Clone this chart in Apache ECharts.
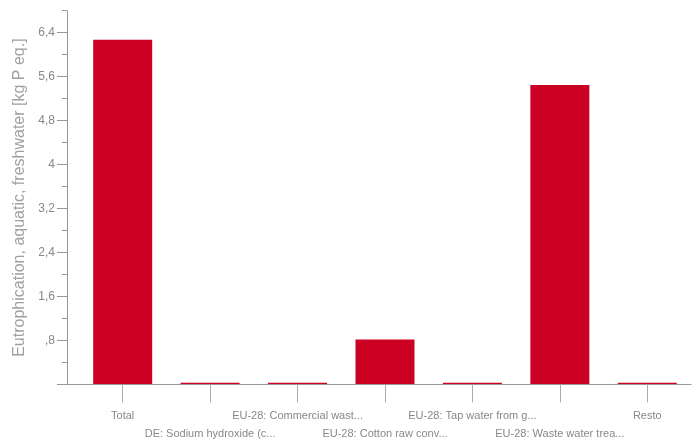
<!DOCTYPE html>
<html>
<head>
<meta charset="utf-8">
<script src="https://cdn.jsdelivr.net/npm/echarts@6/dist/echarts.min.js"></script>
<style>html,body{margin:0;padding:0;background:#fff}#c{width:694px;height:446px}</style>
</head>
<body>
<div id="c"></div>
<script>
var categories = ['Total', 'DE: Sodium hydroxide (c...', 'EU-28: Commercial wast...', 'EU-28: Cotton raw conv...', 'EU-28: Tap water from g...', 'EU-28: Waste water trea...', 'Resto'];
var values = [6.27, 0.03, 0.03, 0.82, 0.03, 5.45, 0.03];
var yMajorTicks = [0, 0.8, 1.6, 2.4, 3.2, 4, 4.8, 5.6, 6.4];
var yTickLabels = ['', ',8', '1,6', '2,4', '3,2', '4', '4,8', '5,6', '6,4'];
var yMinorTicks = [0.4, 1.2, 2.0, 2.8, 3.6, 4.4, 5.2, 6.0, 6.8];
var yName = 'Eutrophication, aquatic, freshwater [kg P eq.]';

var catIdx = categories.map(function (c, i) { return i; });
var chart = echarts.init(document.getElementById('c'), null, {renderer: 'canvas'});
chart.setOption({
  animation: false,
  grid: {left: 67, right: 3, top: 10.7, bottom: 61.5, containLabel: false, outerBoundsMode: 'none'},
  xAxis: {
    type: 'value', min: -0.637, max: 6.5, z: 3,
    splitLine: {show: false},
    axisLine: {show: true, onZero: false, lineStyle: {color: '#999', width: 1.2}},
    axisTick: {show: true, customValues: catIdx, length: 18, lineStyle: {color: '#aaa'}},
    axisLabel: {
      customValues: catIdx, margin: 22, color: '#888', fontSize: 11,
      fontFamily: 'Liberation Sans, Arial, sans-serif', lineHeight: 18,
      formatter: function (v) { var i = Math.round(v); return (i % 2 ? '\n' : '') + categories[i]; }
    }
  },
  yAxis: [{
    type: 'value', min: 0, max: 6.8, position: 'left',
    name: yName, nameLocation: 'middle', nameRotate: 90, nameGap: 39,
    nameTextStyle: {color: '#a0a0a0', fontSize: 16, fontFamily: 'Liberation Sans, Arial, sans-serif'},
    splitLine: {show: false},
    axisLine: {show: true, onZero: false, lineStyle: {color: '#999'}},
    axisTick: {show: true, customValues: yMinorTicks, length: 5, lineStyle: {color: '#999'}},
    axisLabel: {show: false}
  }, {
    type: 'value', min: 0, max: 6.8, position: 'left',
    splitLine: {show: false},
    axisLine: {show: false, onZero: false},
    axisTick: {show: true, customValues: yMajorTicks, length: 10, lineStyle: {color: '#999'}},
    axisLabel: {
      customValues: yMajorTicks, margin: 12, color: '#888', fontSize: 12,
      fontFamily: 'Liberation Sans, Arial, sans-serif',
      formatter: function (v) {
        for (var i = 0; i < yMajorTicks.length; i++) { if (Math.abs(yMajorTicks[i] - v) < 1e-6) return yTickLabels[i]; }
        return '';
      }
    }
  }],
  series: [{
    type: 'bar', yAxisIndex: 0, barWidth: 59,
    itemStyle: {color: '#cc0022'},
    data: values.map(function (v, i) { return [i, v]; })
  }]
});
</script>
</body>
</html>
